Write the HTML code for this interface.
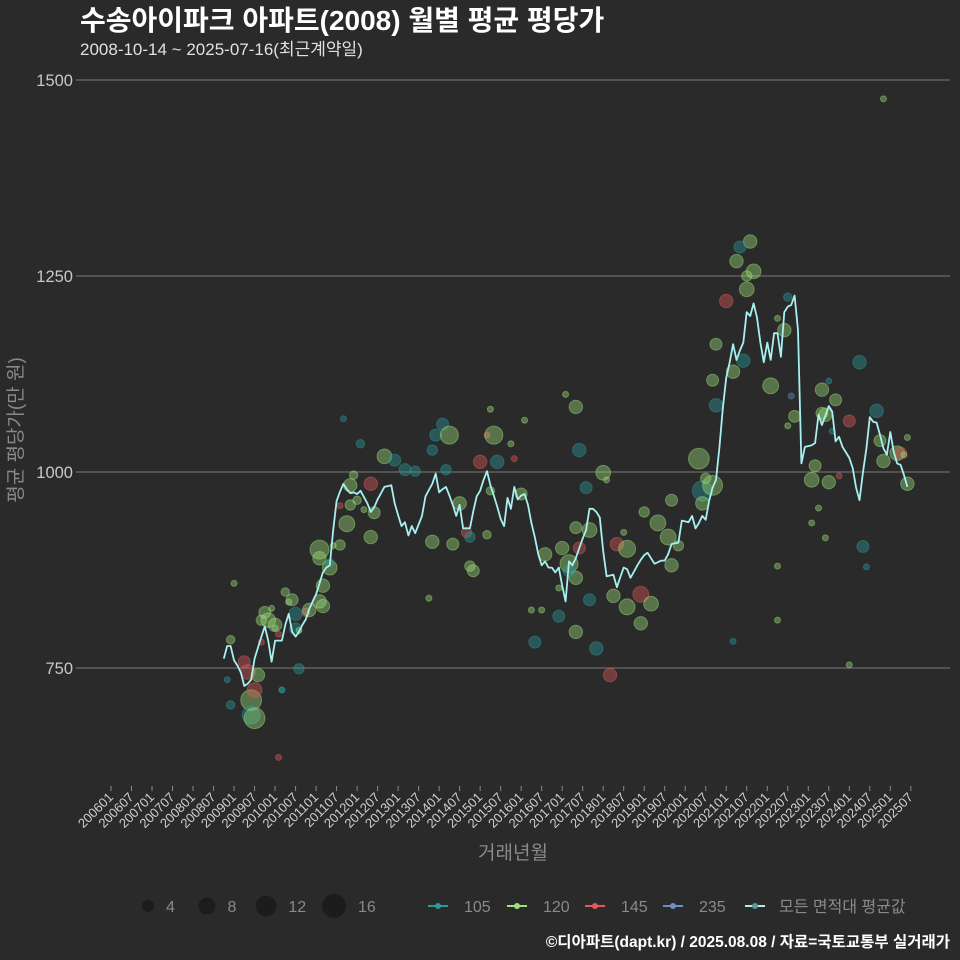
<!DOCTYPE html>
<html><head><meta charset="utf-8">
<style>
html,body{margin:0;padding:0;background:#2b2a2b;}
svg{display:block;font-family:"Liberation Sans","Noto Sans CJK KR",sans-serif;}
</style></head>
<body>
<svg id="chart" width="960" height="960" viewBox="0 0 960 960" xmlns="http://www.w3.org/2000/svg">
<rect x="0" y="0" width="960" height="960" fill="#2b2a2b"/>
<text x="80" y="30" font-size="28" font-weight="bold" fill="#ffffff">수송아이파크 아파트(2008) 월별 평균 평당가</text>
<text x="80" y="55" font-size="17" fill="#e0e0e0">2008-10-14 ~ 2025-07-16(최근계약일)</text>
<g id="grid"></g>
<g id="yaxis"></g>
<g id="xaxis"></g>
<g id="points"></g>
<g id="line"></g>
<text transform="translate(22,430) rotate(-90)" text-anchor="middle" font-size="19" fill="#8a8a8a">평균 평당가(만 원)</text>
<text x="513" y="859" text-anchor="middle" font-size="19" fill="#8a8a8a">거래년월</text>
<g id="legend"></g>
<text x="950" y="947" text-anchor="end" font-size="15.5" font-weight="bold" fill="#ffffff">©디아파트(dapt.kr) / 2025.08.08 / 자료=국토교통부 실거래가</text>
</svg>
<script>
// ---- data ----
const yTicks = [750, 1000, 1250, 1500];
const xTickLabels = ["200601","200607","200701","200707","200801","200807","200901","200907","201001","201007","201101","201107","201201","201207","201301","201307","201401","201407","201501","201507","201601","201607","201701","201707","201801","201807","201901","201907","202001","202007","202101","202107","202201","202207","202301","202307","202401","202407","202501","202507"];
const areaNames = ["105","120","145","235"];
const areaColors = ["#2a9a9a","#9ee07a","#e05a5a","#6f8fc0"];
const sizeLegend = [4, 8, 12, 16];
const lineStart = "2008-10";
const lineValues = [762,778,778,760,753,744,727,730,735,762,776,790,803,785,758,785,785,785,805,819,796,790,796,805,812,825,835,844,858,872,878,881,926,963,975,985,978,973,974,972,976,968,960,949,955,965,973,981,982,983,960,945,931,936,919,931,922,933,944,969,977,985,998,974,978,981,970,958,944,958,928,928,928,950,969,976,990,1001,983,970,956,940,931,967,953,981,965,970,972,958,935,917,895,881,886,878,878,872,878,855,835,886,881,890,903,915,926,953,953,949,942,899,867,868,869,853,866,878,876,865,873,881,888,894,897,890,883,885,887,887,895,908,909,910,938,937,936,944,928,935,944,939,963,980,990,1031,1081,1120,1140,1163,1143,1155,1165,1204,1199,1215,1197,1165,1140,1165,1143,1177,1177,1147,1204,1211,1213,1225,1181,1011,1032,1033,1034,1037,1073,1060,1072,1084,1077,1039,1045,1032,1025,1018,1005,980,964,1000,1030,1070,1064,1063,1047,1030,1022,1051,1026,1011,1009,996,981];
const ptDates = ["2008-12","2009-01","2008-11","2008-12","2009-04","2009-05","2009-06","2009-06","2009-07","2009-07","2009-08","2009-09","2009-09","2009-10","2009-11","2009-12","2010-01","2010-01","2010-02","2010-02","2010-03","2010-03","2010-04","2010-05","2010-06","2010-07","2010-07","2010-08","2010-08","2010-10","2010-11","2011-02","2011-03","2011-03","2011-02","2011-02","2011-05","2011-05","2011-06","2011-08","2011-08","2011-10","2011-11","2011-11","2011-09","2011-12","2012-01","2012-02","2012-03","2012-05","2012-06","2012-05","2012-09","2012-12","2013-03","2013-06","2013-11","2013-11","2013-12","2013-10","2014-02","2014-03","2014-05","2014-04","2014-07","2014-09","2014-10","2014-11","2014-10","2015-01","2015-03","2015-03","2015-04","2015-05","2015-06","2015-04","2015-11","2015-10","2016-02","2016-01","2016-08","2016-12","2016-05","2016-04","2016-07","2016-12","2017-05","2017-05","2017-05","2017-08","2017-01","2017-11","2017-09","2017-03","2017-03","2017-06","2017-05","2017-02","2017-06","2018-01","2018-02","2017-09","2018-05","2018-07","2018-03","2018-04","2018-08","2018-08","2018-12","2018-12","2019-03","2019-05","2019-08","2019-09","2019-09","2019-11","2019-01","2020-06","2020-06","2020-07","2020-09","2020-05","2020-10","2020-09","2020-10","2021-03","2021-01","2021-07","2021-07","2021-04","2021-08","2021-09","2021-05","2021-06","2022-06","2022-09","2022-07","2022-04","2021-03","2022-04","2022-07","2022-04","2022-02","2023-07","2023-09","2023-05","2023-05","2023-06","2024-01","2024-09","2024-10","2024-11","2025-03","2025-04","2025-06","2023-07","2023-04","2023-02","2023-06","2024-05","2024-06","2023-02","2024-04","2024-11","2024-01","2025-06","2025-05","2023-03","2023-08","2022-08","2023-10"];
const ptValues = [786,858,735,703,758,745,709,690,722,686,741,783,811,821,811,826,801,805,793,636,722,722,847,834,837,819,800,749,798,821,824,835,829,855,890,901,878,884,906,957,907,934,983,958,1068,996,964,1036,952,985,948,917,1020,1015,1003,1001,1028,911,1047,839,1061,1003,908,1047,960,923,917,874,880,1013,1047,920,1080,1047,1013,976,1017,1036,1066,972,895,852,783,824,824,816,796,865,929,980,903,775,837,883,874,903,1083,1099,1028,999,990,926,908,923,741,842,828,902,844,807,832,935,917,881,964,906,949,976,960,992,983,1017,1085,1117,1163,1128,1218,1233,1250,1269,1294,1256,1287,1142,1181,1071,1059,880,784,811,1223,1196,1110,1116,1092,1105,1075,1073,1065,1078,1040,1014,1024,1024,985,987,954,935,916,905,879,990,1140,1476,754,1044,1022,1008,1052,1097,995];
const ptCounts = [2,1,1,2,4,6,12,9,6,12,5,1,3,4,6,1,1,5,1,1,1,1,2,1,4,5,4,3,1,2,5,5,5,5,5,10,6,2,1,1,3,7,5,3,1,2,2,2,1,5,4,5,6,4,4,3,3,5,4,1,4,3,4,9,5,3,3,4,3,5,1,2,1,9,5,2,1,1,1,4,5,1,4,1,1,4,5,5,4,4,5,5,4,9,4,4,5,1,5,6,1,6,5,1,5,5,7,8,7,5,6,7,7,5,4,3,3,11,5,3,11,12,5,4,4,5,5,6,3,5,5,6,4,5,5,4,1,1,1,1,2,1,7,1,4,5,4,5,4,5,4,5,6,4,5,5,1,1,1,4,1,6,5,1,1,1,1,4,1,1,1,1,1];
const ptAreas = ["120","120","105","105","145","145","120","105","145","120","120","145","120","120","120","120","120","120","145","145","105","105","120","120","120","105","105","105","120","145","120","120","120","120","120","120","120","105","120","145","120","120","120","120","105","120","120","105","120","145","120","120","120","105","105","105","105","120","105","120","105","105","120","120","120","145","105","120","120","145","145","120","120","120","105","120","145","120","120","120","120","120","105","120","120","105","120","120","120","105","120","105","105","120","105","145","120","120","105","120","120","120","145","120","145","120","120","120","145","120","120","120","120","120","120","120","120","105","120","120","120","120","105","120","120","120","145","120","120","120","120","120","105","105","120","120","120","120","105","120","105","120","120","105","120","120","120","120","145","105","120","120","120","145","120","120","120","120","120","105","105","120","105","120","120","120","120","120","105","235","145","120","120","120","120","120","120"];
// ---- scales ----
const NS = "http://www.w3.org/2000/svg";
function monthIndex(s){const p=s.split("-");return (parseInt(p[0])-2006)*12+parseInt(p[1])-1;}
function xScale(m){return 111 + m*3.418;}
function yScale(v){return 472 - (v-1000)*0.784;}
function mk(tag, attrs, parent){const e=document.createElementNS(NS,tag);for(const k in attrs)e.setAttribute(k,attrs[k]);parent.appendChild(e);return e;}
const grid=document.getElementById("grid"), yaxis=document.getElementById("yaxis"), xaxis=document.getElementById("xaxis");
yTicks.forEach(v=>{
  const y=yScale(v);
  const gl=mk("line",{x1:80,x2:950,y1:y,y2:y,stroke:"#7a7a7a","stroke-width":1},grid);
  
  
  const tk=mk("line",{x1:76,x2:80,y1:y,y2:y,stroke:"#7a7a7a","stroke-width":1},yaxis);
  
  
  const t=mk("text",{x:73,y:y+6,"text-anchor":"end","font-size":16.5,fill:"#c8c8c8"},yaxis);
  
  
  t.textContent=v;
});
xTickLabels.forEach(lb=>{
  const m=monthIndex(lb.slice(0,4)+"-"+lb.slice(4));
  const x=xScale(m);
  const tk=mk("line",{x1:x,x2:x,y1:786,y2:791,stroke:"#8a8a8a","stroke-width":1},xaxis);
  
  
  const t=mk("text",{x:x+3,y:798,"text-anchor":"end","font-size":13,fill:"#d0d0d0",transform:"rotate(-45 "+(x+3)+" 798)"},xaxis);
  
  
  t.textContent=lb;
});
// points
const pg=document.getElementById("points");
ptDates.forEach((d,i)=>{
  const ai=areaNames.indexOf(ptAreas[i]);
  const c=mk("circle",{cx:xScale(monthIndex(d)),cy:yScale(ptValues[i]),r:3*Math.sqrt(ptCounts[i]),fill:areaColors[ai],"fill-opacity":0.4,stroke:areaColors[ai],"stroke-opacity":0.45,"stroke-width":1},pg);
  
  
});
// line
const s0=monthIndex(lineStart);
const pts=lineValues.map((v,i)=>xScale(s0+i).toFixed(1)+","+yScale(v).toFixed(1)).join(" ");
const pl=mk("polyline",{points:pts,fill:"none",stroke:"#a8f0f0","stroke-width":1.8,"stroke-linejoin":"round"},document.getElementById("line"));


// legend
const lg=document.getElementById("legend");
const sizeX=[148,207,266,334];
sizeLegend.forEach((s,i)=>{
  const c=mk("circle",{cx:sizeX[i],cy:906,r:3*Math.sqrt(s),fill:"#1c1c1c"},lg);
  
  
  const t=mk("text",{x:sizeX[i]+3*Math.sqrt(s)+12,y:912,"font-size":16,fill:"#8a8a8a"},lg);
  
  
  t.textContent=s;
});
const areaX=[428,507,585,663];
areaNames.forEach((a,i)=>{
  const l=mk("line",{x1:areaX[i],x2:areaX[i]+20,y1:906,y2:906,stroke:areaColors[i],"stroke-width":2},lg);
  
  
  const c=mk("circle",{cx:areaX[i]+10,cy:906,r:3,fill:areaColors[i]},lg);
  
  
  const t=mk("text",{x:areaX[i]+36,y:912,"font-size":16,fill:"#8a8a8a"},lg);
  
  
  t.textContent=a;
});
const al=mk("line",{x1:745,x2:765,y1:906,y2:906,stroke:"#a8f0f0","stroke-width":2},lg);


const ac=mk("circle",{cx:755,cy:906,r:3,fill:"#5a9a9a"},lg);


const at=mk("text",{x:779,y:912,"font-size":16,fill:"#8a8a8a"},lg);


at.textContent="모든 면적대 평균값";
</script>
</body></html>
